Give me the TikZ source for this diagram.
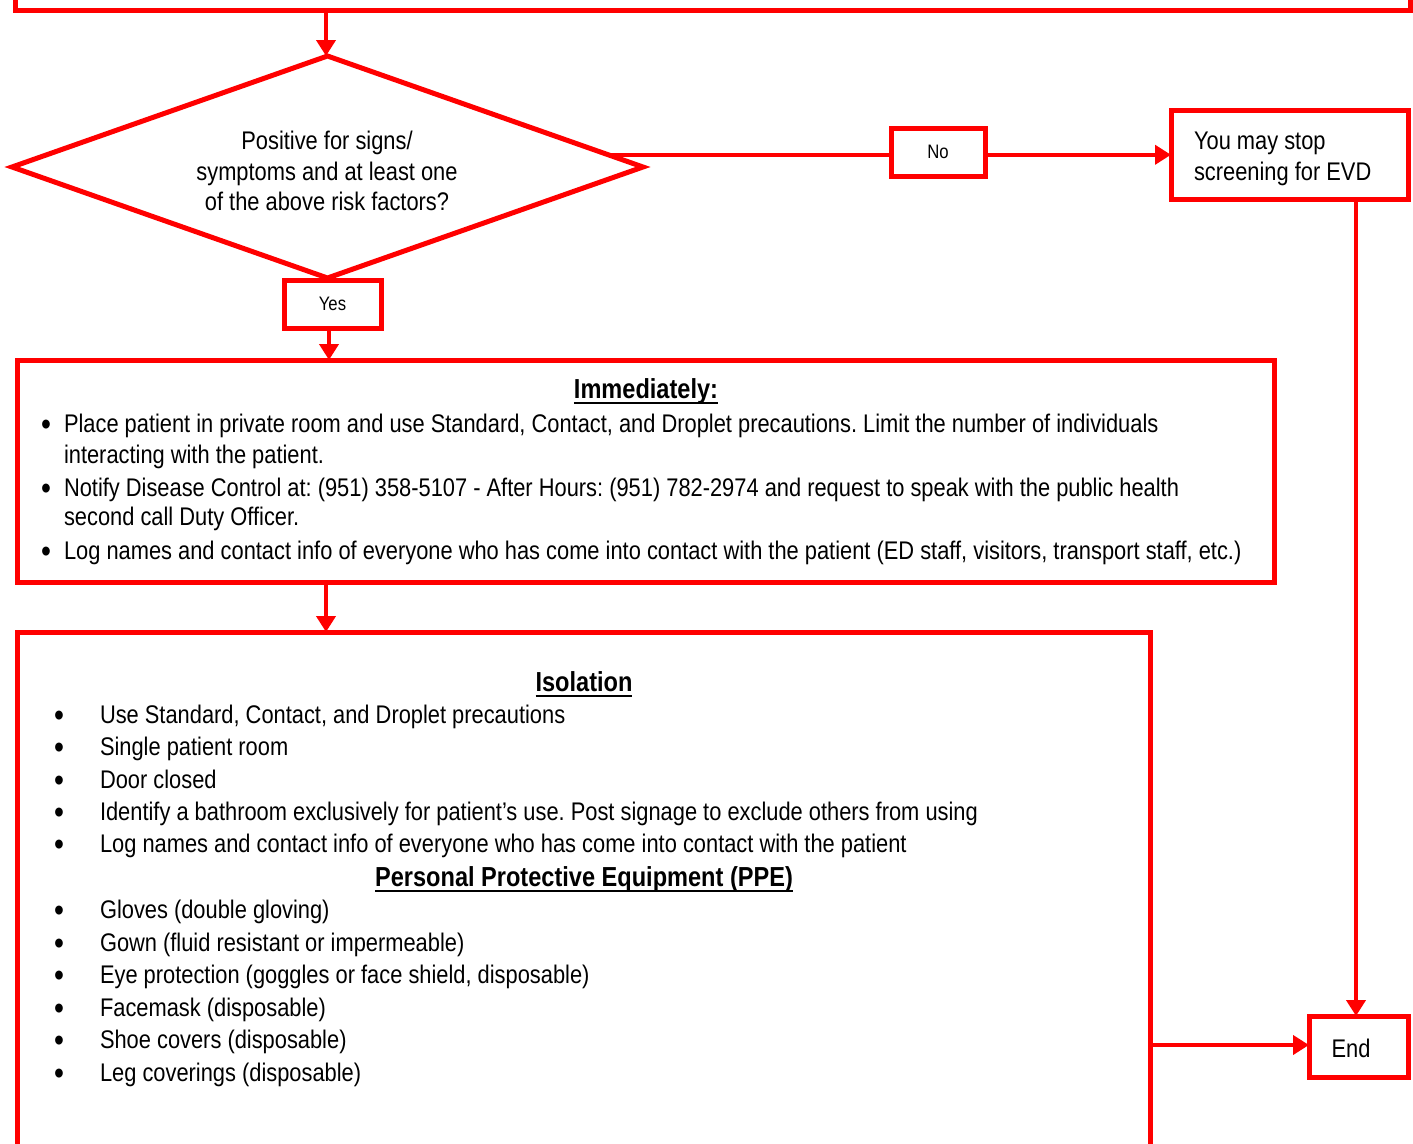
\documentclass[tikz,border=0pt]{standalone}
\usepackage{fontspec}
\setmainfont{Liberation Sans}[FakeStretch=0.857]
\usetikzlibrary{shapes.geometric,arrows.meta,calc}
\definecolor{fred}{RGB}{255,0,0}
\begin{document}
\frenchspacing
\begin{tikzpicture}[x=1pt,y=-1pt,
  box/.style={draw=fred,line width=5pt,inner sep=0pt,outer sep=0pt},
  conn/.style={draw=fred,line width=4pt},
  arr/.style={conn,-{Triangle[length=16pt,width=19pt]}},
  txt/.style={inner sep=0pt,outer sep=0pt,font=\fontsize{25.5}{30.5}\selectfont},
  bul/.style={inner sep=0pt,outer sep=0pt,font=\fontsize{33}{33}\selectfont},
  small/.style={font=\fontsize{19.5}{23}\selectfont},
  ttl/.style={inner sep=0pt,outer sep=0pt,font=\fontsize{27.5}{32}\selectfont\bfseries},
  uline/.style={draw=black,line width=2.5pt},
]
\useasboundingbox (0,0) rectangle (1413,1143);
\clip (0,0) rectangle (1413,1143);
% boxes
\node[box,minimum width=1395pt,minimum height=60pt] (top) at (712.5,-20) {};
\node[box,diamond,aspect=2.84,minimum width=631pt,minimum height=222pt] (dia) at (327.5,167) {};
\node[txt,align=center] (diat) at (327,171) {Positive for signs/\\symptoms and at least one\\of the above risk factors?};
\node[box,small,minimum width=94pt,minimum height=48pt] (no) at (938,152) {No};
\node[box,minimum width=237pt,minimum height=89pt] (stop) at (1289.5,154.5) {};
\node[txt,align=left,anchor=west] (stopt) at (1194,159) {You may stop\\screening for EVD};
\node[box,small,minimum width=97pt,minimum height=48pt] (yes) at (332.5,304) {Yes};
\node[box,minimum width=1257pt,minimum height=222pt] (imm) at (645.5,471) {};
\node[box,minimum width=1133pt,minimum height=618pt] (iso) at (583.5,941) {};
\node[box,minimum width=99pt,minimum height=61pt] (end) at (1358.5,1046.5) {};
\node[txt] (endt) at (1351,1048) {End};
% connectors
\coordinate (nostart) at ($(dia.north)!0.89!(dia.east)$);
\draw[arr] (top.south -| 326,0) -- (326,0 |- dia.north);
\draw[conn] (nostart) -- (nostart -| no.west);
\draw[arr] (no.east |- nostart) -- (nostart -| stop.west);
\draw[arr] (yes.south -| 329,0) -- (329,0 |- imm.north);
\draw[arr] (imm.south -| 326,0) -- (326,0 |- iso.north);
\draw[arr] (stop.south -| 1356,0) -- (1356,0 |- end.north);
\draw[arr] (iso.east |- 0,1045) -- (end.west |- 0,1045);
% Immediately box text
\node[ttl,anchor=base] (immt) at (646,398) {Immediately:};
\draw[uline] ($(immt.base west)+(0,5)$) -- ($(immt.base east)+(0,5)$);
\node[bul] (ib1) at (46,428) {•};
\node[txt,anchor=base west] (il1) at (64,432) {Place patient in private room and use Standard, Contact, and Droplet precautions. Limit the number of individuals};
\node[txt,anchor=base west] (il2) at (64,463) {interacting with the patient.};
\node[bul] (ib2) at (46,492) {•};
\node[txt,anchor=base west] (il3) at (64,496) {Notify Disease Control at: (951) 358-5107 - After Hours: (951) 782-2974 and request to speak with the public health};
\node[txt,anchor=base west] (il4) at (64,525) {second call Duty Officer.};
\node[bul] (ib3) at (46,555) {•};
\node[txt,anchor=base west] (il5) at (64,559) {Log names and contact info of everyone who has come into contact with the patient (ED staff, visitors, transport staff, etc.)};
% Isolation box text
\node[ttl,anchor=base] (isot) at (584,691) {Isolation};
\draw[uline] ($(isot.base west)+(0,5)$) -- ($(isot.base east)+(0,5)$);
\node[bul] (sb1) at (59,719) {•};
\node[txt,anchor=base west] (sl1) at (100,723) {Use Standard, Contact, and Droplet precautions};
\node[bul] (sb2) at (59,751) {•};
\node[txt,anchor=base west] (sl2) at (100,755) {Single patient room};
\node[bul] (sb3) at (59,784) {•};
\node[txt,anchor=base west] (sl3) at (100,788) {Door closed};
\node[bul] (sb4) at (59,816) {•};
\node[txt,anchor=base west] (sl4) at (100,820) {Identify a bathroom exclusively for patient’s use. Post signage to exclude others from using};
\node[bul] (sb5) at (59,848) {•};
\node[txt,anchor=base west] (sl5) at (100,852) {Log names and contact info of everyone who has come into contact with the patient};
\node[ttl,anchor=base] (ppet) at (584,886) {Personal Protective Equipment (PPE)};
\draw[uline] ($(ppet.base west)+(0,5)$) -- ($(ppet.base east)+(0,5)$);
\node[bul] (pb1) at (59,914) {•};
\node[txt,anchor=base west] (pl1) at (100,918) {Gloves (double gloving)};
\node[bul] (pb2) at (59,947) {•};
\node[txt,anchor=base west] (pl2) at (100,951) {Gown (fluid resistant or impermeable)};
\node[bul] (pb3) at (59,979) {•};
\node[txt,anchor=base west] (pl3) at (100,983) {Eye protection (goggles or face shield, disposable)};
\node[bul] (pb4) at (59,1012) {•};
\node[txt,anchor=base west] (pl4) at (100,1016) {Facemask (disposable)};
\node[bul] (pb5) at (59,1044) {•};
\node[txt,anchor=base west] (pl5) at (100,1048) {Shoe covers (disposable)};
\node[bul] (pb6) at (59,1077) {•};
\node[txt,anchor=base west] (pl6) at (100,1081) {Leg coverings (disposable)};
\end{tikzpicture}
\end{document}
